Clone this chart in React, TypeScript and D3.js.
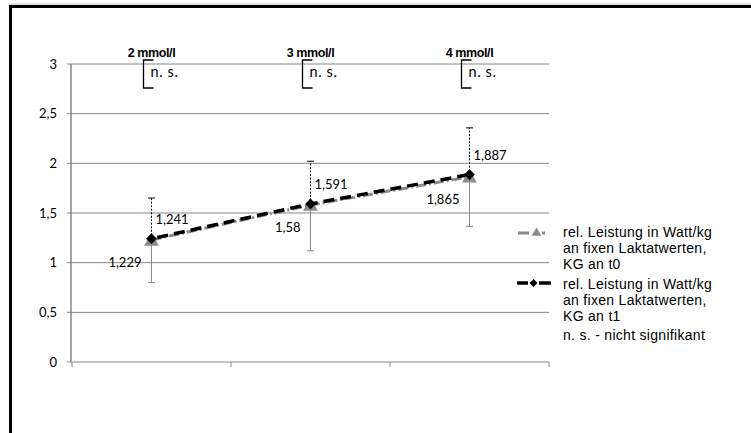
import React from 'react';
import * as d3 from 'd3';

// categories (lactate thresholds)
const categories = ['2 mmol/l', '3 mmol/l', '4 mmol/l'];
// rel. power in W/kg, KG at t0 and t1
const t0Values = [1.229, 1.58, 1.865];
const t1Values = [1.241, 1.591, 1.887];
// standard deviations (t0 drawn downward, t1 upward)
const t0Sd = [0.43, 0.46, 0.5];
const t1Sd = [0.41, 0.43, 0.47];
const yTicks = [0, 0.5, 1, 1.5, 2, 2.5, 3];
const sigLabels = ['n. s.', 'n. s.', 'n. s.'];
const legendT0 = ['rel. Leistung in Watt/kg', 'an fixen Laktatwerten,', 'KG an t0'];
const legendT1 = ['rel. Leistung in Watt/kg', 'an fixen Laktatwerten,', 'KG an t1'];
const legendNote = 'n. s. - nicht signifikant';

const W = 751;
const H = 433;
const GRAY = '#8a8a8a';
const AXIS = '#868686';

const de = d3.formatLocale({ decimal: ',', thousands: '.', grouping: [3], currency: ['', '€'] });
const fmtTick = de.format('~g');
const fmtVal = (v: number) => de.format('~r')(v);

export default function App() {
  const x = d3.scaleBand<string>().domain(categories).range([72, 549]).padding(0);
  const y = d3.scaleLinear().domain([0, 3]).range([362, 64]);
  const cx = (i: number) => (x(categories[i]) as number) + x.bandwidth() / 2;

  const line = d3
    .line<number>()
    .x((_, i) => cx(i))
    .y((d) => y(d));

  const tri = d3.symbol().type(d3.symbolTriangle).size(95)();
  // diamond = square turned 45°
  const dia = d3.symbol().type(d3.symbolSquare).size(58)();
  const triSmall = d3.symbol().type(d3.symbolTriangle).size(40)();
  const diaSmall = d3.symbol().type(d3.symbolSquare).size(32)();

  const labelFont = 'Lato, "Open Sans", sans-serif';
  const legendFont = '"Liberation Sans", Arial, sans-serif';

  const bounds = [...categories.map((c) => x(c) as number), x.range()[1]];

  return (
    <svg
      width={W}
      height={H}
      style={{ position: 'absolute', left: 0, top: 0, background: '#fff' }}
    >
      {/* outer frame (top + left visible) */}
      <line x1={9} x2={W} y1={4} y2={4} stroke="#c8c8c8" strokeWidth={1} />
      <line x1={9} x2={W} y1={6.5} y2={6.5} stroke="#000" strokeWidth={3} />
      <line x1={10.5} x2={10.5} y1={5} y2={H} stroke="#000" strokeWidth={3} />

      {/* gridlines + y labels */}
      {yTicks.map((t) => (
        <g key={t}>
          <line x1={67} x2={549} y1={y(t)} y2={y(t)} stroke={AXIS} strokeWidth={1} />
          <text
            x={57}
            y={y(t) + 4.5}
            textAnchor="end"
            fontFamily={labelFont}
            fontSize={13}
            fill="#000"
          >
            {fmtTick(t)}
          </text>
        </g>
      ))}
      {/* y axis */}
      <line x1={71} x2={71} y1={y(3)} y2={y(0)} stroke={AXIS} strokeWidth={1.5} />
      {/* x ticks */}
      {bounds.map((b, i) => (
        <line key={i} x1={b} x2={b} y1={y(0)} y2={y(0) + 5} stroke={AXIS} strokeWidth={1} />
      ))}

      {/* category headers + significance brackets */}
      {categories.map((c, i) => (
        <g key={c}>
          <text
            x={cx(i)}
            y={57}
            textAnchor="middle"
            fontFamily={legendFont}
            fontWeight="bold"
            fontSize={12.5}
            letterSpacing={-0.4}
          >
            {c}
          </text>
          <path
            d={`M${cx(i) + 2},60 H${cx(i) - 8} V88 H${cx(i) + 2}`}
            fill="none"
            stroke="#000"
            strokeWidth={1.3}
          />
          <text x={cx(i) - 1} y={77} fontFamily={labelFont} fontSize={14.5} letterSpacing={0.6}>
            {sigLabels[i]}
          </text>
        </g>
      ))}

      {/* series lines */}
      <path
        d={line(t0Values) as string}
        fill="none"
        stroke={GRAY}
        strokeWidth={3}
        strokeDasharray="10,3,2,3"
      />
      <path
        d={line(t1Values) as string}
        fill="none"
        stroke="#000"
        strokeWidth={3.5}
        strokeDasharray="11,6"
        strokeDashoffset={-6}
      />

      {/* error bars */}
      {t0Values.map((v, i) => (
        <g key={'e0' + i} stroke={GRAY} strokeWidth={1}>
          <line x1={cx(i)} x2={cx(i)} y1={y(v)} y2={y(v - t0Sd[i])} />
          <line x1={cx(i) - 3.5} x2={cx(i) + 3.5} y1={y(v - t0Sd[i])} y2={y(v - t0Sd[i])} />
        </g>
      ))}
      {t1Values.map((v, i) => (
        <g key={'e1' + i} stroke="#000" strokeWidth={1}>
          <line x1={cx(i)} x2={cx(i)} y1={y(v)} y2={y(v + t1Sd[i])} strokeDasharray="2,1.5" />
          <line x1={cx(i) - 3.5} x2={cx(i) + 3.5} y1={y(v + t1Sd[i])} y2={y(v + t1Sd[i])} />
        </g>
      ))}

      {/* markers */}
      {t0Values.map((v, i) => (
        <path key={'m0' + i} d={tri as string} transform={`translate(${cx(i)},${y(v) + 1.5})`} fill={GRAY} />
      ))}
      {t1Values.map((v, i) => (
        <path
          key={'m1' + i}
          d={dia as string}
          transform={`translate(${cx(i)},${y(v)}) rotate(45)`}
          fill="#000"
        />
      ))}

      {/* value labels */}
      {t0Values.map((v, i) => (
        <text
          key={'l0' + i}
          x={cx(i) - 10}
          y={y(v) + 27}
          textAnchor="end"
          fontFamily={labelFont}
          fontSize={13}
        >
          {fmtVal(v)}
        </text>
      ))}
      {t1Values.map((v, i) => (
        <text key={'l1' + i} x={cx(i) + 4} y={y(v) - 15} fontFamily={labelFont} fontSize={13}>
          {fmtVal(v)}
        </text>
      ))}

      {/* legend */}
      <g>
        <line x1={518} x2={529} y1={233} y2={233} stroke={GRAY} strokeWidth={3} />
        <line x1={542} x2={545} y1={233} y2={233} stroke={GRAY} strokeWidth={3} />
        <path d={triSmall as string} transform="translate(536.5,233)" fill={GRAY} />
        {legendT0.map((s, i) => (
          <text key={'lg0' + i} x={563} y={237 + i * 16} fontFamily={legendFont} fontSize={14} letterSpacing={0.3}>
            {s}
          </text>
        ))}
        <line x1={517} x2={528} y1={283} y2={283} stroke="#000" strokeWidth={3.5} />
        <line x1={539} x2={551} y1={283} y2={283} stroke="#000" strokeWidth={3.5} />
        <path d={diaSmall as string} transform="translate(533.5,283) rotate(45)" fill="#000" />
        {legendT1.map((s, i) => (
          <text key={'lg1' + i} x={563} y={289 + i * 16} fontFamily={legendFont} fontSize={14} letterSpacing={0.3}>
            {s}
          </text>
        ))}
        <text x={563} y={340} fontFamily={legendFont} fontSize={14} letterSpacing={0.3}>
          {legendNote}
        </text>
      </g>
    </svg>
  );
}
